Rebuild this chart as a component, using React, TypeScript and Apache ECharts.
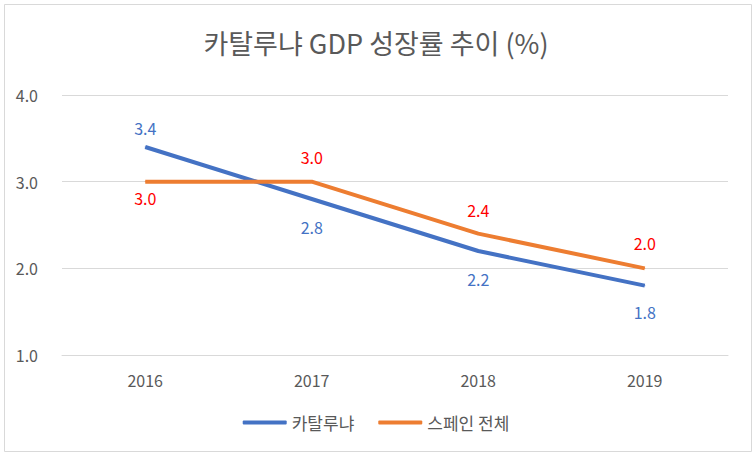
import React, { useEffect, useRef } from "react";
import * as echarts from "echarts";

const categories = ["2016", "2017", "2018", "2019"];
const catalonia = [3.4, 2.8, 2.2, 1.8];
const spain = [3.0, 3.0, 2.4, 2.0];
const cataloniaLabelPos = ["top", "bottom", "bottom", "bottom"];
const spainLabelPos = ["bottom", "top", "top", "top"];
const cataloniaLabelGap = [11, 19, 19, 18];
const spainLabelGap = [8, 16, 15, 17];
const seriesNames = ["카탈루냐", "스페인 전체"];

const FONT = "'Noto Sans CJK KR', 'Noto Sans', sans-serif";

export default function App() {
  const ref = useRef<HTMLDivElement>(null);
  useEffect(() => {
    const chart = echarts.init(ref.current!, undefined, { renderer: "svg" });
    chart.setOption({
      animation: false,
      textStyle: { fontFamily: FONT },
      title: {
        text: "카탈루냐 GDP 성장률 추이 (%)",
        left: "center",
        top: 24,
        textStyle: { fontSize: 27, fontWeight: "normal", color: "#595959", fontFamily: FONT },
      },
      graphic: [
        {
          type: "rect",
          left: 2,
          top: 2,
          shape: { width: 747, height: 447 },
          style: { fill: "none", stroke: "#d9d9d9", lineWidth: 1 },
          silent: true,
        },
      ],
      legend: {
        bottom: 16,
        left: "center",
        itemWidth: 44,
        itemHeight: 4,
        itemGap: 24,
        icon: "roundRect",
        textStyle: { fontSize: 17, color: "#595959", fontFamily: FONT },
        data: seriesNames,
      },
      grid: { left: 62, right: 24, top: 95, bottom: 97, containLabel: false },
      xAxis: {
        type: "category",
        data: categories,
        boundaryGap: true,
        axisLine: { show: true, lineStyle: { color: "#d9d9d9", width: 1 } },
        axisTick: { show: false },
        axisLabel: { color: "#595959", fontSize: 16, margin: 17 },
      },
      yAxis: {
        type: "value",
        min: 1,
        max: 4,
        interval: 1,
        axisLine: { show: false },
        axisTick: { show: false },
        splitLine: { lineStyle: { color: "#d9d9d9", width: 1 } },
        axisLabel: {
          color: "#595959",
          fontSize: 16,
          margin: 24,
          formatter: (v: number) => v.toFixed(1),
        },
      },
      series: [
        {
          name: seriesNames[0],
          type: "line",
          data: catalonia.map((v, i) => ({
            value: v,
            label: { position: cataloniaLabelPos[i], distance: cataloniaLabelGap[i] },
          })),
          symbol: "circle",
          symbolSize: 1,
          showSymbol: true,
          lineStyle: { color: "#4472C4", width: 4 },
          itemStyle: { color: "#4472C4" },
          label: {
            show: true,
            color: "#4472C4",
            fontSize: 16,
            formatter: (p: any) => Number(p.value).toFixed(1),
          },
        },
        {
          name: seriesNames[1],
          type: "line",
          data: spain.map((v, i) => ({
            value: v,
            label: { position: spainLabelPos[i], distance: spainLabelGap[i] },
          })),
          symbol: "circle",
          symbolSize: 1,
          showSymbol: true,
          lineStyle: { color: "#ED7D31", width: 4 },
          itemStyle: { color: "#ED7D31" },
          label: {
            show: true,
            color: "#FF0000",
            fontSize: 16,
            formatter: (p: any) => Number(p.value).toFixed(1),
          },
        },
      ],
    });
    return () => chart.dispose();
  }, []);
  return (
    <div
      ref={ref}
      style={{ position: "fixed", left: 0, top: 0, width: 752, height: 452, background: "#fff" }}
    />
  );
}
